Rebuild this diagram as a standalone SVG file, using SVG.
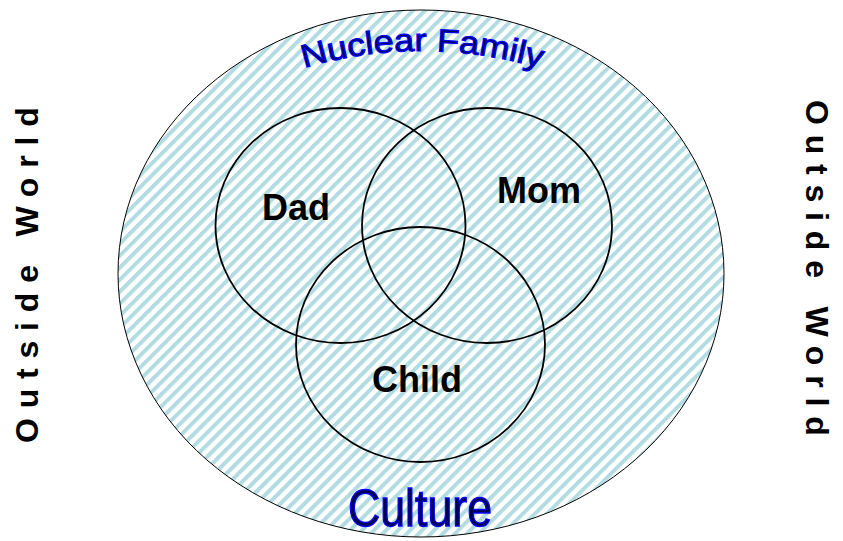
<svg xmlns="http://www.w3.org/2000/svg" width="843" height="541" viewBox="0 0 843 541">
<style>
.ring{fill:none;stroke:#000;stroke-width:1.8}
.lbl{font-family:"Liberation Sans",Arial,sans-serif;font-weight:bold;font-size:36px;fill:#000}
.side{font-family:"Liberation Sans",Arial,sans-serif;font-weight:bold;font-size:32px;fill:#000;letter-spacing:9.8px}
.word{font-family:"Liberation Sans",Arial,sans-serif;fill:#000050;stroke:#0000ff;stroke-width:1.1}
</style>
<defs>
<pattern id="stripes" width="8.5" height="8.5" patternUnits="userSpaceOnUse" patternTransform="rotate(45)">
<rect x="0" y="0" width="4" height="8.5" fill="#b2dce1"/>
</pattern>
<path id="arcTop" d="M 304 68 Q 420 34 540 68"/>
</defs>
<rect width="843" height="541" fill="#fff"/>
<g id="nuclear-family">
<ellipse cx="421" cy="273.5" rx="303" ry="263.5" fill="#fff"/>
<ellipse cx="421" cy="273.5" rx="303" ry="263.5" fill="url(#stripes)" stroke="#000" stroke-width="1"/>
<text class="word" font-size="32"><textPath href="#arcTop" textLength="240" lengthAdjust="spacingAndGlyphs">Nuclear Family</textPath></text>
<text class="word" font-size="44" transform="translate(348,526) scale(1,1.18)" textLength="144" lengthAdjust="spacingAndGlyphs">Culture</text>
</g>
<g id="connectors"></g>
<g id="dad">
<ellipse class="ring" cx="340.5" cy="225.5" rx="125" ry="117.5"/>
<text class="lbl" x="262" y="220">Dad</text>
</g>
<g id="mom">
<ellipse class="ring" cx="487" cy="225.5" rx="125" ry="117.5"/>
<text class="lbl" x="497" y="203">Mom</text>
</g>
<g id="child">
<ellipse class="ring" cx="420.5" cy="344.5" rx="124.5" ry="117.5"/>
<text class="lbl" x="372" y="392">Child</text>
</g>
<g id="outside-left">
<text class="side" transform="translate(38,443) rotate(-90)">Outside World</text>
</g>
<g id="outside-right">
<text class="side" transform="translate(806,100) rotate(90)">Outside World</text>
</g>
</svg>
